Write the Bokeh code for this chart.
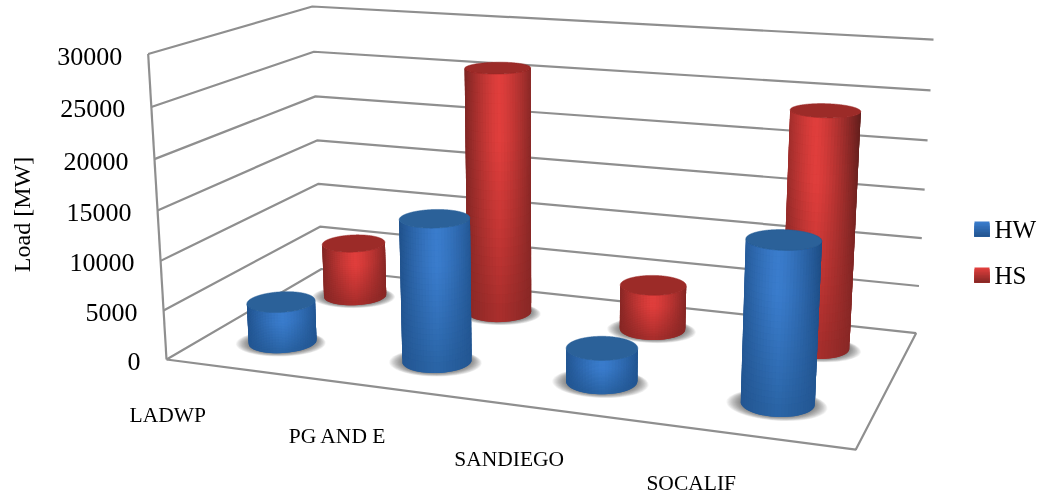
import numpy as np
from bokeh.plotting import figure
from bokeh.models import ColumnDataSource
from bokeh.core.properties import value
from bokeh.embed import file_html
from bokeh.resources import INLINE

# ---------- chart data ----------
categories = ["LADWP", "PG AND E", "SANDIEGO", "SOCALIF"]
hw_load = [4200, 14300, 3300, 15400]
hs_load = [5900, 26000, 4700, 23900]
ticks = [0, 5000, 10000, 15000, 20000, 25000, 30000]
axis_max = 30000
axis_title = "Load [MW]"

# ---------- camera calibration: (u, v, load fraction) -> pixel ----------
w_levels = [i / 6 for i in range(7)]
front_left_px = [(163, 360), (163, 310), (161, 260), (159, 210), (157, 159), (150, 106), (146, 53)]
back_left_px = [(322, 268), (320, 226), (318, 183), (316, 140), (314, 96), (313, 52), (312, 6)]
back_right_px = [(915, 332), (919, 286), (922, 238), (924, 189), (927, 140), (930, 90), (933, 39)]
front_right_px = (855, 449)

world, pixels = [], []
for w, a, b, c in zip(w_levels, front_left_px, back_left_px, back_right_px):
    world += [(0, 0, w), (0, 1, w), (1, 1, w)]
    pixels += [a, b, c]
world.append((1, 0, 0))
pixels.append(front_right_px)
A, B = [], []
for (u, v, w), (x, y) in zip(world, pixels):
    A.append([u, v, w, 1, 0, 0, 0, 0, -x * u, -x * v, -x * w])
    A.append([0, 0, 0, 0, u, v, w, 1, -y * u, -y * v, -y * w])
    B += [x, y]
sol = np.linalg.lstsq(np.array(A, float), np.array(B, float), rcond=None)[0]
P = np.append(sol, 1.0).reshape(3, 4)


def project(u, v, w):
    u, v, w = np.broadcast_arrays(np.asarray(u, float), np.asarray(v, float), np.asarray(w, float))
    h = np.stack([u, v, w, np.ones_like(u, dtype=float)])
    q = P @ h.reshape(4, -1)
    return (q[0] / q[2]).reshape(u.shape), (q[1] / q[2]).reshape(u.shape)


W, H = 1040, 495
p = figure(width=W, height=H, x_range=(0, W), y_range=(H, 0), toolbar_location=None,
           output_backend="svg", min_border=0, outline_line_color=None,
           background_fill_color="white", border_fill_color="white")
p.axis.visible = False
p.grid.visible = False
p.styles = {"position": "fixed", "left": "0px", "top": "0px"}

FONT = value("Liberation Serif")
GRID = "#8f8f8f"

# ---------- walls and floor ----------
lx, ly = [], []
for t in ticks:
    w = t / axis_max
    xs, ys = project([0, 0, 1], [0, 1, 1], [w, w, w])
    lx.append(xs.tolist())
    ly.append(ys.tolist())
xs, ys = project([0, 0], [0, 0], [0, 1])
lx.append(xs.tolist()); ly.append(ys.tolist())
xs, ys = project([0, 1, 1], [0, 0, 1], [0, 0, 0])
lx.append(xs.tolist()); ly.append(ys.tolist())
p.multi_line(lx, ly, line_color=GRID, line_width=2.2)


def lerp(a, b, t):
    return tuple(a[i] + (b[i] - a[i]) * t for i in range(3))


def hexc(c):
    return "#%02x%02x%02x" % tuple(int(round(max(0, min(255, k)))) for k in c)


RU, RV = 0.0495, 0.105
SERIES = {
    "HW": dict(vals=hw_load, v=0.26, center=(58, 124, 204), edge=(35, 86, 146),
               low=(42, 100, 165), top="#2b6199"),
    "HS": dict(vals=hs_load, v=0.76, center=(224, 62, 60), edge=(136, 40, 38),
               low=(168, 46, 44), top="#9c2b28"),
}
U_SHIFT = -0.0045


def shadow(u, v):
    px, py, alpha = [], [], []
    th = np.linspace(0, 2 * np.pi, 60)
    for k in np.linspace(1, 0, 18):
        xs, ys = project(u + RU * (0.95 + 0.42 * k) * np.cos(th),
                         v + RV * (0.95 + 0.2 * k) * np.sin(th) - 0.012 * k,
                         np.zeros_like(th))
        px.append(xs.tolist()); py.append(ys.tolist()); alpha.append(0.05)
    p.patches(px, py, fill_color="#404040", fill_alpha=alpha, line_color=None)


def cylinder(u, v, load, s):
    w = load / axis_max
    th = np.linspace(0, 2 * np.pi, 361)[:-1]
    cu, cv = u + RU * np.cos(th), v + RV * np.sin(th)
    bx, by = project(cu, cv, np.zeros_like(th))
    il, ir = int(np.argmin(bx)), int(np.argmax(bx))
    a, b = th[il], th[ir]
    if b < a:
        b += 2 * np.pi
    mid = (a + b) / 2
    _, my = project(u + RU * np.cos(mid), v + RV * np.sin(mid), 0.0)
    _, oy = project(u + RU * np.cos(mid + np.pi), v + RV * np.sin(mid + np.pi), 0.0)
    if my < oy:
        b -= 2 * np.pi
    NA, NL = 34, 26
    arc = np.linspace(a, b, NA + 1)
    au, av = u + RU * np.cos(arc), v + RV * np.sin(arc)
    levels = np.linspace(0, w, NL + 1)
    qx, qy, col = [], [], []
    x0, x1 = bx.min(), bx.max()
    # painted top level first, left to right: every quad runs under the next
    # ones, so no white seam can show between neighbours
    for j in range(NL - 1, -1, -1):
        w0, w1 = levels[j], levels[min(j + 2, NL)]
        f = (j + 0.5) / NL
        x_b, y_b = project(au, av, np.full_like(au, w0))
        x_t, y_t = project(au, av, np.full_like(au, w1))
        shade = min(1.0, f / 0.7) ** 0.9
        for i in range(NA):
            e = min(i + 2, NA)
            qx.append([x_b[i], x_b[e], x_t[e], x_t[i]])
            qy.append([y_b[i], y_b[e], y_t[e], y_t[i]])
            t = abs(((x_b[i] + x_b[i + 1]) / 2 - x0) / (x1 - x0) * 2 - 1)
            base = lerp(s["center"], s["edge"], t ** 1.35)
            low = lerp(s["low"], s["edge"], t)
            col.append(hexc(lerp(low, base, shade)))
    p.patches(qx, qy, fill_color=col, line_color=None)
    tx, ty = project(cu, cv, np.full_like(cu, w))
    p.patch(tx.tolist(), ty.tolist(), fill_color=s["top"], line_color=s["top"], line_width=0.5)


n = len(categories)
for name in ["HS", "HW"]:
    s = SERIES[name]
    for i in range(n):
        shadow((i + 0.5) / n + U_SHIFT, s["v"])
    for i, load in enumerate(s["vals"]):
        cylinder((i + 0.5) / n + U_SHIFT, s["v"], load, s)

# ---------- texts ----------
tx, ty = project(np.zeros(len(ticks)), np.zeros(len(ticks)), np.array(ticks) / axis_max)
src = ColumnDataSource(dict(x=tx - 26, y=ty + 2, text=[str(t) for t in ticks]))
p.text("x", "y", "text", source=src, text_font=FONT, text_font_size="26px",
       text_align="right", text_baseline="middle", text_color="#000000")
p.text([21], [214], [axis_title], angle=np.pi / 2, text_font=FONT, text_font_size="24px",
       text_align="center", text_baseline="middle", text_color="#000000")
cu = (np.arange(n) + 0.5) / n
cx, cy = project(cu, np.zeros(n), np.zeros(n))
label_dx = np.array([-75, -65.5, -65.5, -67.5])
src = ColumnDataSource(dict(x=cx + label_dx, y=cy + 46, text=categories))
p.text("x", "y", "text", source=src, text_font=FONT, text_font_size="21.5px",
       text_align="center", text_baseline="middle", text_color="#000000")

# ---------- legend ----------
for name, ytop in [("HW", 221), ("HS", 267)]:
    s = SERIES[name]
    steps = 10
    l, r, t, b, c = [], [], [], [], []
    for k in range(steps):
        l.append(974); r.append(989)
        t.append(ytop + k * 15 / steps); b.append(ytop + 15)
        c.append(hexc(lerp(s["center"], s["edge"], k / (steps - 1))))
    p.quad(left=l, right=r, top=t, bottom=b, fill_color=c, line_color=None)
    p.text([994], [ytop + 7.5], [name], text_font=FONT, text_font_size="25px",
           text_align="left", text_baseline="middle", text_color="#000000")

open("out.html", "w").write(file_html(p, INLINE))
